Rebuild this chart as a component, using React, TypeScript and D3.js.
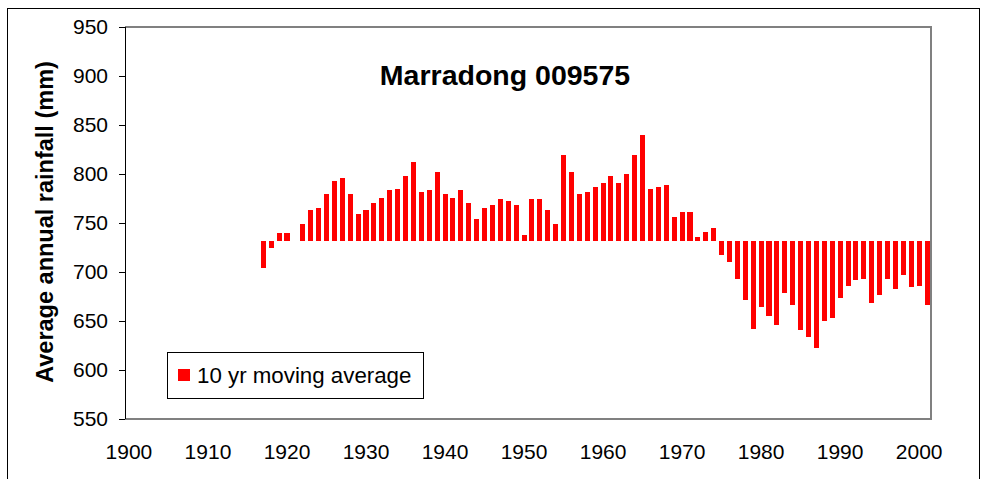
import React from 'react';
import * as d3 from 'd3';

// 10 yr moving average, Marradong 009575 (mm)
const years: number[] = d3.range(1917, 2002);
const rainfall: number[] = [
  704.4, 724.8, 739.8, 739.8, 732.0, 749.0, 763.3, 765.3, 779.6, 792.9, // 1917-1926
  795.9, 779.6, 759.2, 763.3, 770.4, 775.5, 783.7, 784.7, 798.0, 812.2, // 1927-1936
  781.6, 783.7, 802.0, 779.6, 775.5, 783.7, 770.4, 754.1, 765.3, 768.4, // 1937-1946
  774.5, 772.4, 768.4, 737.8, 774.5, 774.5, 763.3, 749.0, 819.4, 802.0, // 1947-1956
  779.6, 781.6, 786.7, 790.8, 798.0, 790.8, 800.0, 819.4, 839.8, 784.7, // 1957-1966
  786.7, 788.8, 756.1, 761.2, 761.2, 735.7, 740.8, 744.9, 717.3, 710.2, // 1967-1976
  692.9, 671.4, 641.8, 664.3, 655.1, 645.9, 678.6, 666.3, 640.8, 633.7, // 1977-1986
  622.4, 650.0, 653.1, 673.5, 685.7, 691.8, 692.9, 668.4, 676.5, 692.9, // 1987-1996
  682.7, 696.9, 684.7, 685.7, 666.3,                                     // 1997-2001
];
const longTermMean = 732;
const yTicks: number[] = [550, 600, 650, 700, 750, 800, 850, 900, 950];
const xTickYears: number[] = [1900, 1910, 1920, 1930, 1940, 1950, 1960, 1970, 1980, 1990, 2000];

const W = 983, H = 479;
const left = 125, right = 931, top = 27, bottom = 419;
const font = 'Arial, "Liberation Sans", sans-serif';

export default function App() {
  const x = d3.scaleBand<number>()
    .domain(d3.range(1900, 2002))
    .range([left, right])
    .paddingInner(0.36)
    .paddingOuter(0.18);
  const y = d3.scaleLinear().domain([550, 950]).range([bottom, top]);
  const centre = (yr: number) => (x(yr) as number) + x.bandwidth() / 2;

  return (
    <svg width={W} height={H} style={{ position: 'absolute', left: 0, top: 0, background: '#fff' }}
      fontFamily={font}>
      {/* chart border */}
      <rect x={7.5} y={8.5} width={972} height={500} fill="#fff" stroke="#000" strokeWidth={1} />

      {/* plot area frame */}
      <path d={`M${left},${top}H${right}V${bottom}H${left}`} fill="none" stroke="#808080" strokeWidth={2} />

      {/* bars */}
      <g shapeRendering="crispEdges">
        {years.map((yr, i) => {
          const v = rainfall[i];
          const y0 = y(Math.max(v, longTermMean));
          const y1 = y(Math.min(v, longTermMean));
          return <rect key={yr} x={x(yr)} y={y0} width={x.bandwidth()} height={y1 - y0} fill="#ff0000" />;
        })}
      </g>

      {/* y axis */}
      <line x1={left + 0.5} x2={left + 0.5} y1={top} y2={bottom} stroke="#000" />
      {yTicks.map(t => (
        <g key={t}>
          <line x1={left - 6} x2={left} y1={Math.round(y(t)) + 0.5} y2={Math.round(y(t)) + 0.5} stroke="#000" />
          <text x={108} y={y(t)} dy="0.35em" textAnchor="end" fontSize={21}>{t}</text>
        </g>
      ))}

      {/* x labels */}
      {xTickYears.map(t => (
        <text key={t} x={centre(t)} y={452} dy="0.35em" textAnchor="middle" fontSize={21}>{t}</text>
      ))}

      {/* axis title */}
      <text transform="translate(45,222) rotate(-90)" textAnchor="middle" dy="0.35em"
        fontSize={23.5} fontWeight="bold">Average annual  rainfall (mm)</text>

      {/* chart title */}
      <text x={505} y={75} dy="0.35em" textAnchor="middle" fontSize={28.5} fontWeight="bold">Marradong 009575</text>

      {/* legend */}
      <rect x={167.5} y={352.5} width={256} height={46} fill="#fff" stroke="#000" />
      <rect x={178} y={369} width={12} height={12} fill="#ff0000" />
      <text x={197} y={375} dy="0.35em" fontSize={22.3}>10 yr moving average</text>
    </svg>
  );
}
